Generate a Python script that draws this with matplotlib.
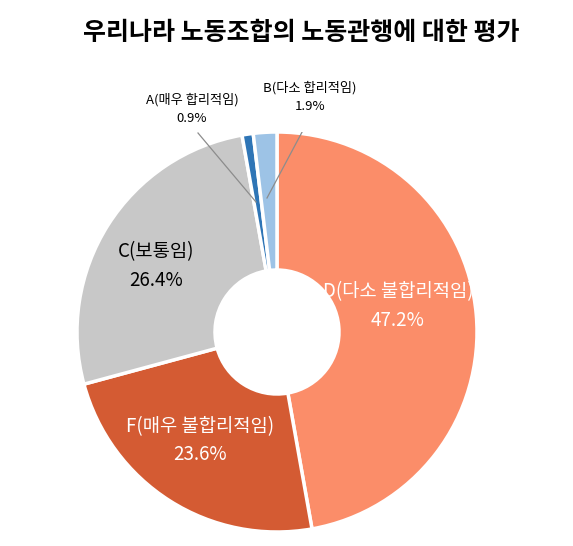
import matplotlib as mpl
mpl.use('Agg')
import matplotlib.pyplot as plt

plt.rcParams['font.family'] = ['Noto Sans CJK KR', 'DejaVu Sans']

title = '우리나라 노동조합의 노동관행에 대한 평가'
# clockwise from 12 o'clock
categories = ['D(다소 불합리적임)', 'F(매우 불합리적임)', 'C(보통임)', 'A(매우 합리적임)', 'B(다소 합리적임)']
values = [47.2, 23.6, 26.4, 0.9, 1.9]
colors = ['#FB8D69', '#D45B33', '#C8C8C8', '#2E75B6', '#9DC3E6']

W, H = 573, 546
cx, cy, R = 277, 332, 200

fig = plt.figure(figsize=(W / 100, H / 100), dpi=100)
ax = fig.add_axes([(cx - R) / W, (H - cy - R) / H, 2 * R / W, 2 * R / H])

ax.pie(values, colors=colors, startangle=90, counterclock=False, radius=1,
       wedgeprops=dict(width=0.69, edgecolor='white', linewidth=2.5))
ax.set_xlim(-1, 1)
ax.set_ylim(-1, 1)
ax.axis('off')


def px(x, y):
    # pixel position in the picture -> data coords of the pie axes
    return (x - cx) / R, (cy - y) / R


def big_label(name, val, x, y, color):
    ax.text(*px(x, y), name, ha='center', va='center', fontsize=13.5, color=color)
    ax.text(*px(x, y + 28), '%.1f%%' % val, ha='center', va='center', fontsize=13.5, color=color)


big_label(categories[0], values[0], 398, 292, 'white')
big_label(categories[1], values[1], 200, 427, 'white')
big_label(categories[2], values[2], 156, 252, 'black')

# small slices with leader lines
ax.text(*px(192, 100), categories[3], ha='center', va='center', fontsize=9.5)
ax.text(*px(192, 118), '%.1f%%' % values[3], ha='center', va='center', fontsize=9.5)
ax.plot(*zip(px(198, 133), px(256, 202)), color='#8C8C8C', lw=0.9)

ax.text(*px(310, 88), categories[4], ha='center', va='center', fontsize=9.5)
ax.text(*px(310, 106), '%.1f%%' % values[4], ha='center', va='center', fontsize=9.5)
ax.plot(*zip(px(309, 119), px(267, 198)), color='#8C8C8C', lw=0.9)

fig.text(301 / W, 1 - 33 / H, title, ha='center', va='center', fontsize=18, fontweight='bold')

plt.savefig('out.png', dpi=100)
plt.close()
